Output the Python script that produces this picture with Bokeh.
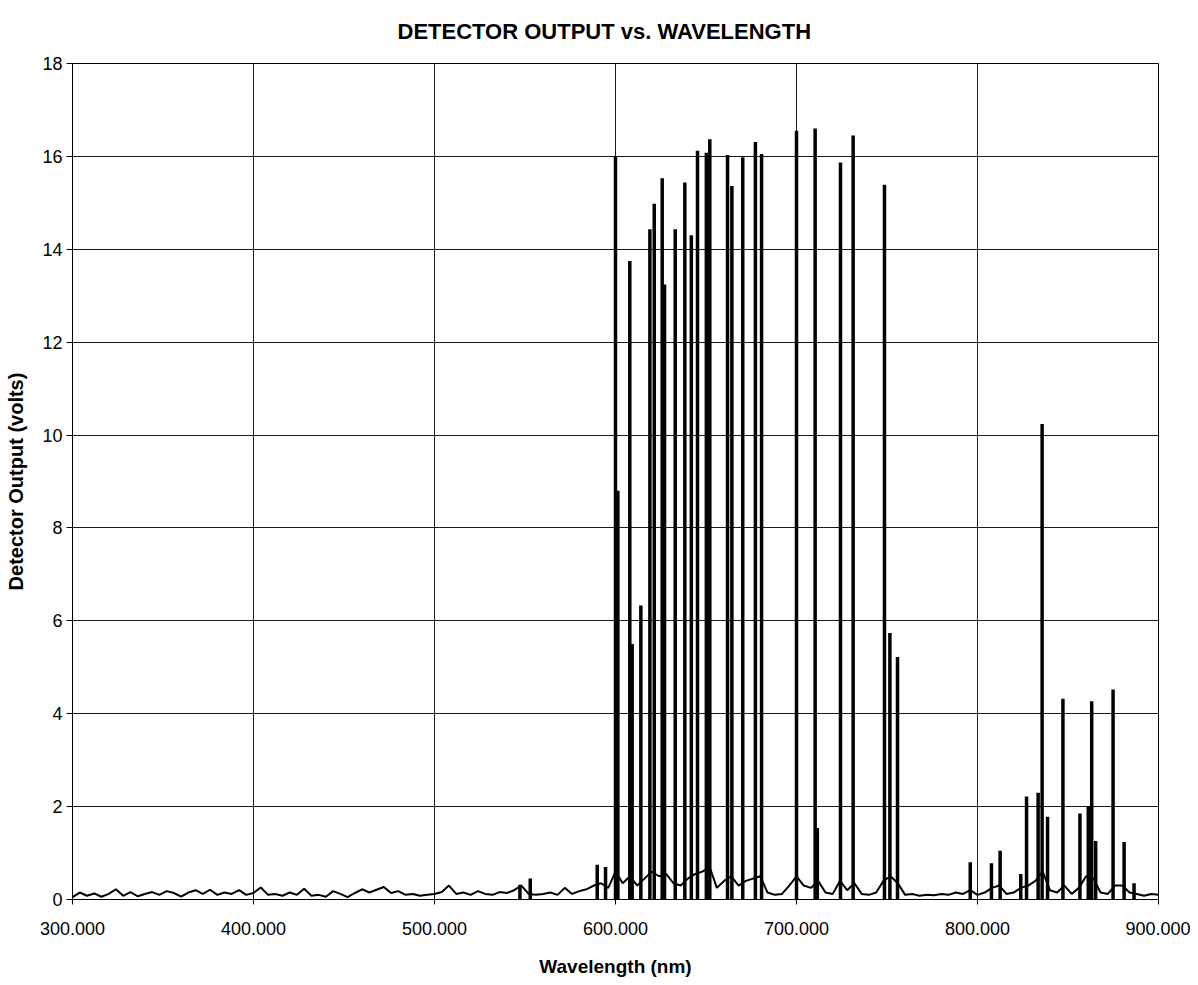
from bokeh.plotting import figure
from bokeh.models import FixedTicker, NumeralTickFormatter, Range1d
from bokeh.embed import file_html
from bokeh.resources import INLINE

# ---------------- data ----------------
x_ticks = [300, 400, 500, 600, 700, 800, 900]
y_ticks = [0, 2, 4, 6, 8, 10, 12, 14, 16, 18]

# emission lines: wavelength (nm) and peak detector output (volts)
peak_nm = [547.2, 552.9, 589.9, 594.5, 600.0, 601.3, 607.9, 609.2, 614.0, 619.0,
           621.4, 625.8, 627.1, 633.0, 638.3, 641.9, 645.3, 650.2, 652.1, 661.9,
           664.3, 670.3, 677.3, 680.7, 700.0, 710.3, 711.5, 724.3, 731.3, 748.6,
           751.6, 755.8, 796.0, 807.7, 812.5, 823.9, 827.1, 833.5, 835.7, 838.7,
           847.2, 856.6, 861.2, 863.1, 865.3, 874.9, 881.0, 886.5]
peak_v = [0.32, 0.45, 0.75, 0.70, 16.00, 8.80, 13.75, 5.50, 6.33, 14.43,
          14.98, 15.53, 13.24, 14.43, 15.44, 14.30, 16.12, 16.08, 16.37, 16.03,
          15.36, 15.98, 16.31, 16.05, 16.55, 16.60, 1.54, 15.87, 16.45, 15.39,
          5.74, 5.22, 0.80, 0.78, 1.05, 0.55, 2.22, 2.30, 10.24, 1.78,
          4.32, 1.85, 2.00, 4.27, 1.26, 4.52, 1.24, 0.35]

# background / noise floor, sampled every 4 nm
noise_nm = list(range(300, 901, 4))
noise_v = [0.05, 0.15, 0.08, 0.13, 0.06, 0.12, 0.22, 0.08, 0.16, 0.07,
           0.12, 0.16, 0.10, 0.18, 0.14, 0.06, 0.15, 0.20, 0.12, 0.21,
           0.10, 0.15, 0.12, 0.20, 0.10, 0.14, 0.26, 0.10, 0.12, 0.08,
           0.15, 0.10, 0.23, 0.08, 0.10, 0.06, 0.18, 0.12, 0.05, 0.14,
           0.22, 0.15, 0.21, 0.27, 0.14, 0.18, 0.10, 0.12, 0.08, 0.10,
           0.12, 0.16, 0.30, 0.12, 0.15, 0.10, 0.18, 0.12, 0.10, 0.16,
           0.14, 0.20, 0.30, 0.12, 0.10, 0.12, 0.15, 0.10, 0.25, 0.12,
           0.18, 0.22, 0.30, 0.35, 0.25, 0.60, 0.35, 0.50, 0.30, 0.45,
           0.60, 0.50, 0.55, 0.35, 0.30, 0.45, 0.55, 0.60, 0.70, 0.25,
           0.40, 0.50, 0.30, 0.40, 0.45, 0.50, 0.15, 0.10, 0.12, 0.30,
           0.50, 0.30, 0.25, 0.40, 0.15, 0.12, 0.40, 0.20, 0.35, 0.12,
           0.10, 0.15, 0.40, 0.50, 0.35, 0.10, 0.12, 0.08, 0.10, 0.09,
           0.12, 0.10, 0.15, 0.12, 0.20, 0.10, 0.15, 0.25, 0.30, 0.12,
           0.15, 0.25, 0.30, 0.40, 0.60, 0.20, 0.15, 0.30, 0.12, 0.25,
           0.50, 0.45, 0.15, 0.12, 0.30, 0.30, 0.15, 0.12, 0.08, 0.12,
           0.10]

title_text = "DETECTOR OUTPUT vs. WAVELENGTH"
x_label = "Wavelength (nm)"
y_label = "Detector Output (volts)"

FONT = "Liberation Sans"

# ---------------- figure ----------------
p = figure(width=1190, height=980, output_backend="svg", toolbar_location=None,
           x_range=Range1d(300, 900), y_range=Range1d(0, 18),
           min_border_left=72, min_border_right=32, min_border_top=63,
           min_border_bottom=81, background_fill_color="white",
           border_fill_color="white")

p.title.text = title_text
p.title.align = "left"
p.title.offset = 325
p.title.standoff = 36
p.title.vertical_align = "top"
p.title.text_font = FONT
p.title.text_font_size = "22px"
p.title.text_font_style = "bold"
p.title.text_color = "black"

p.outline_line_color = "black"
p.outline_line_width = 1

for ax in (p.xaxis[0], p.yaxis[0]):
    ax.axis_line_color = "black"
    ax.major_tick_line_color = "black"
    ax.minor_tick_line_color = None
    ax.major_tick_in = 0
    ax.major_label_text_font = FONT
    ax.major_label_text_font_size = "18px"
    ax.major_label_text_color = "black"
    ax.axis_label_text_font = FONT
    ax.axis_label_text_font_style = "bold"
    ax.axis_label_text_color = "black"

p.xaxis.ticker = FixedTicker(ticks=x_ticks)
p.xaxis.formatter = NumeralTickFormatter(format="0.000")
p.xaxis.major_tick_out = 5
p.xaxis.major_label_standoff = 17
p.xaxis.axis_label = x_label
p.xaxis.axis_label_text_font_size = "19px"
p.xaxis.axis_label_standoff = 18

p.yaxis.ticker = FixedTicker(ticks=y_ticks)
p.yaxis.major_tick_out = 6
p.yaxis.major_label_standoff = 4
p.yaxis.axis_label = y_label
p.yaxis.axis_label_text_font_size = "20px"
p.yaxis.axis_label_standoff = 12

p.xgrid.grid_line_color = "#1a1a1a"
p.ygrid.grid_line_color = "#1a1a1a"
p.xgrid.grid_line_width = 1
p.ygrid.grid_line_width = 1

# ---------------- data marks ----------------
p.line(noise_nm, noise_v, line_color="black", line_width=2)
p.segment(x0=peak_nm, y0=[0] * len(peak_nm), x1=peak_nm, y1=peak_v,
          line_color="black", line_width=3.5)

open("out.html", "w").write(file_html(p, INLINE))
